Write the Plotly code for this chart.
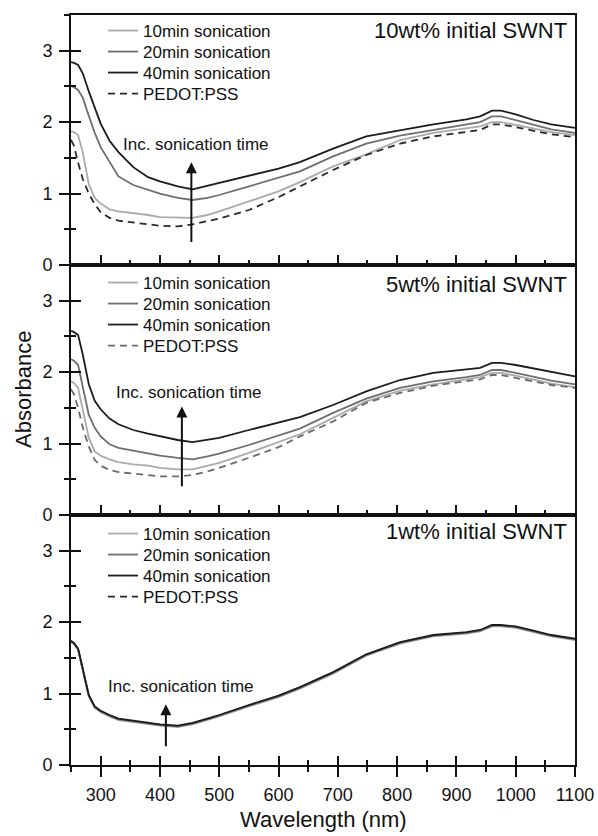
import plotly.graph_objects as go

# ---------------- data ----------------
wavelength = [250, 255, 262, 270, 280, 290, 300, 315, 330, 355, 380, 400, 430, 455, 480, 500,
              550, 600, 636, 692, 748, 805, 861, 917, 940, 960, 975, 1000, 1030, 1060, 1100]

series_names = ["10min sonication", "20min sonication", "40min sonication", "PEDOT:PSS"]

# 10wt% initial SWNT
p10_10min = [1.87, 1.86, 1.82, 1.57, 1.13, 0.94, 0.86, 0.78, 0.75, 0.73, 0.70, 0.67, 0.66, 0.66, 0.70, 0.75,
             0.89, 1.03, 1.16, 1.38, 1.55, 1.75, 1.85, 1.91, 1.94, 2.00, 2.00, 1.96, 1.91, 1.86, 1.82]
p10_20min = [2.51, 2.49, 2.45, 2.34, 2.09, 1.85, 1.65, 1.44, 1.24, 1.12, 1.05, 1.00, 0.94, 0.91, 0.94, 0.98,
             1.10, 1.22, 1.31, 1.52, 1.70, 1.81, 1.89, 1.96, 2.00, 2.08, 2.08, 2.03, 1.96, 1.90, 1.85]
p10_40min = [2.84, 2.83, 2.80, 2.68, 2.43, 2.20, 1.98, 1.74, 1.58, 1.37, 1.23, 1.17, 1.10, 1.06, 1.11, 1.15,
             1.25, 1.35, 1.44, 1.63, 1.80, 1.89, 1.97, 2.04, 2.08, 2.16, 2.16, 2.11, 2.03, 1.97, 1.92]
p10_pedot = [1.75, 1.67, 1.43, 1.20, 1.00, 0.85, 0.74, 0.66, 0.62, 0.60, 0.57, 0.55, 0.54, 0.57, 0.61, 0.65,
             0.77, 0.95, 1.10, 1.33, 1.54, 1.70, 1.80, 1.86, 1.89, 1.97, 1.97, 1.93, 1.88, 1.83, 1.79]

# 5wt% initial SWNT
p5_10min = [1.87, 1.85, 1.78, 1.45, 1.08, 0.89, 0.83, 0.78, 0.74, 0.71, 0.69, 0.66, 0.64, 0.64, 0.69, 0.73,
            0.87, 1.02, 1.13, 1.36, 1.59, 1.74, 1.83, 1.90, 1.93, 1.99, 1.99, 1.95, 1.89, 1.84, 1.79]
p5_20min = [2.18, 2.16, 2.10, 1.78, 1.40, 1.22, 1.10, 0.99, 0.94, 0.90, 0.86, 0.83, 0.80, 0.78, 0.82, 0.86,
            0.98, 1.12, 1.21, 1.43, 1.63, 1.78, 1.87, 1.93, 1.96, 2.03, 2.03, 1.99, 1.94, 1.88, 1.83]
p5_40min = [2.58, 2.56, 2.52, 2.24, 1.83, 1.60, 1.48, 1.35, 1.27, 1.19, 1.14, 1.10, 1.05, 1.02, 1.05, 1.08,
            1.19, 1.30, 1.37, 1.54, 1.73, 1.89, 1.99, 2.04, 2.06, 2.13, 2.13, 2.10, 2.05, 2.00, 1.94]
p5_pedot = [1.76, 1.69, 1.50, 1.22, 0.96, 0.77, 0.69, 0.63, 0.60, 0.58, 0.56, 0.54, 0.54, 0.56, 0.61, 0.66,
            0.80, 0.95, 1.10, 1.31, 1.57, 1.71, 1.81, 1.87, 1.90, 1.96, 1.96, 1.92, 1.87, 1.82, 1.78]

# 1wt% initial SWNT
p1_10min = [1.72, 1.69, 1.61, 1.34, 0.96, 0.80, 0.74, 0.68, 0.63, 0.60, 0.57, 0.55, 0.53, 0.57, 0.63, 0.68,
            0.82, 0.95, 1.07, 1.28, 1.53, 1.70, 1.80, 1.84, 1.87, 1.94, 1.94, 1.92, 1.86, 1.80, 1.75]
p1_20min = [1.73, 1.70, 1.62, 1.35, 0.97, 0.81, 0.75, 0.69, 0.64, 0.61, 0.58, 0.56, 0.54, 0.58, 0.64, 0.69,
            0.83, 0.96, 1.08, 1.29, 1.54, 1.71, 1.81, 1.85, 1.88, 1.95, 1.95, 1.93, 1.87, 1.81, 1.76]
p1_40min = [1.74, 1.71, 1.63, 1.36, 0.98, 0.82, 0.76, 0.70, 0.65, 0.62, 0.59, 0.57, 0.55, 0.59, 0.65, 0.70,
            0.84, 0.97, 1.09, 1.30, 1.55, 1.72, 1.82, 1.86, 1.89, 1.96, 1.96, 1.94, 1.88, 1.82, 1.77]
p1_pedot = [1.73, 1.70, 1.62, 1.35, 0.97, 0.81, 0.75, 0.69, 0.64, 0.61, 0.58, 0.56, 0.54, 0.58, 0.64, 0.69,
            0.83, 0.96, 1.08, 1.29, 1.54, 1.71, 1.81, 1.85, 1.88, 1.95, 1.95, 1.93, 1.87, 1.81, 1.76]

panel_titles = ["10wt% initial SWNT", "5wt% initial SWNT", "1wt% initial SWNT"]
arrow_text = "Inc. sonication time"
x_title = "Wavelength (nm)"
y_title = "Absorbance"
# arrow: (wavelength, tail absorbance, head absorbance), text position (wavelength, absorbance)
arrow_specs = [(453, 0.30, 1.44, 461, 1.69), (437, 0.38, 1.52, 449, 1.72), (410, 0.24, 0.85, 436, 1.10)]

x_range = [250, 1100]
y_range = [0, 3.5]
x_ticks = [300, 400, 500, 600, 700, 800, 900, 1000, 1100]
y_ticks = [0, 1, 2, 3]

# ---------------- figure ----------------
FONT = "Liberation Sans, Arial, sans-serif"
INK = "#111111"
colors = ["#aaaaaa", "#6e6e6e", "#1c1c1c"]
pedot_colors = ["#2a2a2a", "#6a6a6a", "#2a2a2a"]

panels = [
    (p10_10min, p10_20min, p10_40min, p10_pedot),
    (p5_10min, p5_20min, p5_40min, p5_pedot),
    (p1_10min, p1_20min, p1_40min, p1_pedot),
]

W, H = 598, 836
ML, MR, MT, MB = 71, 23, 15, 71
PW, PH = W - ML - MR, H - MT - MB

# legend row centres (px from top), one row per series, for each panel
legend_rows_px = [[31, 52, 73, 94], [283, 304, 325, 346], [534, 555, 576, 597]]


def legend_key(i, k):
    n = i * 4 + k + 1
    return "legend" if n == 1 else f"legend{n}"


fig = go.Figure()
for i, data in enumerate(panels):
    ax = "" if i == 0 else str(i + 1)
    order = [3, 0, 1, 2] if i == 2 else [0, 1, 2, 3]
    for k in order:
        if k < 3:
            line = dict(color=colors[k], width=1.8)
        else:
            line = dict(color=pedot_colors[i], width=1.8, dash="7px,5px")
        fig.add_trace(go.Scatter(x=wavelength, y=data[k], mode="lines", name=series_names[k], line=line,
                                 xaxis="x" + ax, yaxis="y" + ax, legend=legend_key(i, k)))

# invisible helper traces so the overlay tick axes are drawn
for xa, ya in [("x4", "y3"), ("x", "y4"), ("x2", "y5"), ("x3", "y6")]:
    fig.add_trace(go.Scatter(x=[wavelength[0]], y=[0], mode="markers", marker=dict(opacity=0),
                             xaxis=xa, yaxis=ya, showlegend=False, hoverinfo="skip"))

domains = [[2 / 3, 1], [1 / 3, 2 / 3], [0, 1 / 3]]
common_ax = dict(showline=True, linecolor=INK, linewidth=2, mirror=True, showgrid=False,
                 zeroline=False, tickcolor=INK, tickwidth=2, automargin=False)
layout = dict(
    width=W, height=H, margin=dict(l=ML, r=MR, t=MT, b=MB, autoexpand=False),
    paper_bgcolor="white", plot_bgcolor="white",
    font=dict(family=FONT, color=INK, size=18),
    showlegend=True,
)
for i in range(3):
    ax = "" if i == 0 else str(i + 1)
    last = i == 2
    layout["xaxis" + ax] = dict(
        common_ax, anchor="y" + ax, domain=[0, 1], range=x_range, tickmode="array",
        tickvals=x_ticks, ticks="outside" if last else "inside", ticklen=10,
        minor=dict(ticks="outside" if last else "inside", ticklen=5, dtick=50, tick0=0,
                   tickcolor=INK, tickwidth=2),
        showticklabels=last, tickfont=dict(size=18), ticklabelstandoff=2,
    )
    layout["yaxis" + ax] = dict(
        common_ax, anchor="x" + ax, domain=domains[i], range=y_range, tickmode="array",
        tickvals=y_ticks, ticks="outside", ticklen=10,
        minor=dict(ticks="outside", ticklen=5, dtick=0.5, tick0=0, tickcolor=INK, tickwidth=2),
        tickfont=dict(size=18), ticklabelstandoff=3,
    )
# overlay axes giving the inner half of crossing ticks
layout["xaxis4"] = dict(overlaying="x3", anchor="y3", range=x_range, tickmode="array", tickvals=x_ticks,
                        ticks="inside", ticklen=9, tickwidth=2, tickcolor=INK, showticklabels=False,
                        showgrid=False, zeroline=False, showline=False, automargin=False,
                        minor=dict(ticks="inside", ticklen=5, dtick=50, tick0=0, tickcolor=INK, tickwidth=2))
for yo, base, xa in [("yaxis4", "y", "x"), ("yaxis5", "y2", "x2"), ("yaxis6", "y3", "x3")]:
    layout[yo] = dict(overlaying=base, anchor=xa, range=y_range, tickmode="array", tickvals=y_ticks,
                      ticks="inside", ticklen=10, tickwidth=2, tickcolor=INK, showticklabels=False,
                      showgrid=False, zeroline=False, showline=False, automargin=False,
                      minor=dict(ticks="inside", ticklen=5, dtick=0.5, tick0=0, tickcolor=INK, tickwidth=2))

# one legend per entry so the row spacing matches the original
for i in range(3):
    for k in range(4):
        layout[legend_key(i, k)] = dict(
            x=(103 - ML) / PW, xanchor="left", y=1 - (legend_rows_px[i][k] - MT) / PH, yanchor="middle",
            bgcolor="rgba(0,0,0,0)", borderwidth=0, font=dict(size=17, color=INK), itemwidth=30)

annotations = []
title_centers_px = [31, 284, 531]
for i in range(3):
    annotations.append(dict(text=panel_titles[i], xref="paper", yref="paper", x=1, xanchor="right",
                            xshift=-6, y=1 - (title_centers_px[i] - MT) / PH, yanchor="middle",
                            showarrow=False, font=dict(size=22, color=INK)))
for i, (xw, y0, y1, tx, ty) in enumerate(arrow_specs):
    ax = "" if i == 0 else str(i + 1)
    annotations.append(dict(text="", x=xw, y=y1, xref="x" + ax, yref="y" + ax, ax=xw, ay=y0,
                            axref="x" + ax, ayref="y" + ax, showarrow=True, arrowhead=2, arrowsize=1.1,
                            arrowwidth=2, arrowcolor=INK, standoff=0))
    annotations.append(dict(text=arrow_text, x=tx, y=ty, xref="x" + ax, yref="y" + ax, showarrow=False,
                            font=dict(size=17, color=INK), xanchor="center", yanchor="middle"))
annotations.append(dict(text=y_title, xref="paper", yref="paper", x=-(ML - 23) / PW, xanchor="center",
                        y=0.5, yanchor="middle", textangle=-90, showarrow=False,
                        font=dict(size=22, color=INK)))
annotations.append(dict(text=x_title, xref="paper", yref="paper", x=0.5, xanchor="center",
                        y=-(819 - (MT + PH)) / PH, yanchor="middle", showarrow=False,
                        font=dict(size=22, color=INK)))
layout["annotations"] = annotations

fig.update_layout(layout)
fig.write_html("out.html")
